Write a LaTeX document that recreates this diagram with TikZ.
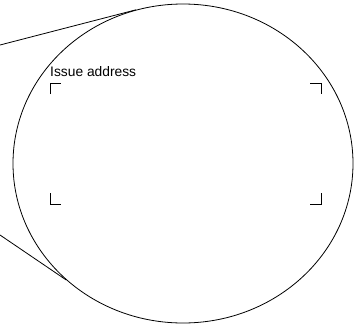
\documentclass[tikz,border=0pt]{standalone}
\usepackage{fontspec}
\setmainfont{Liberation Sans}
\usetikzlibrary{positioning,shapes.geometric,calc}

\begin{document}
\begin{tikzpicture}[x=1pt,y=-1pt,
 e/.style={ellipse,draw,line width=.8pt,minimum width=340pt,minimum height=319pt,inner sep=0pt},
 l/.style={line width=.8pt},
 m/.style={line width=1pt},
 t/.style={anchor=base west,inner sep=0pt,font=\fontsize{13.8}{16}\selectfont}]
\useasboundingbox (0,0) rectangle (364,325);
\node[e] (c) at (183,163.5) {};
\coordinate (p) at (0,45);
\coordinate (q) at (0,235);
\draw[l] (p)--(c.107);
\draw[l] (q)--(c.225);
\node[t] (i) at (50,76.5) {Issue address};
% corner marks
\coordinate (tl) at (50,83);\coordinate (tr) at (321,83);
\coordinate (bl) at (50,204);\coordinate (br) at (321,204);
\draw[m] ($(tl)+(0,11)$)--(tl)--++(11,0);
\draw[m] ($(tr)+(-11,0)$)--(tr)--++(0,11);
\draw[m] ($(bl)+(0,-11)$)--(bl)--++(11,0);
\draw[m] ($(br)+(-11,0)$)--(br)--++(0,-11);
\end{tikzpicture}
\end{document}
